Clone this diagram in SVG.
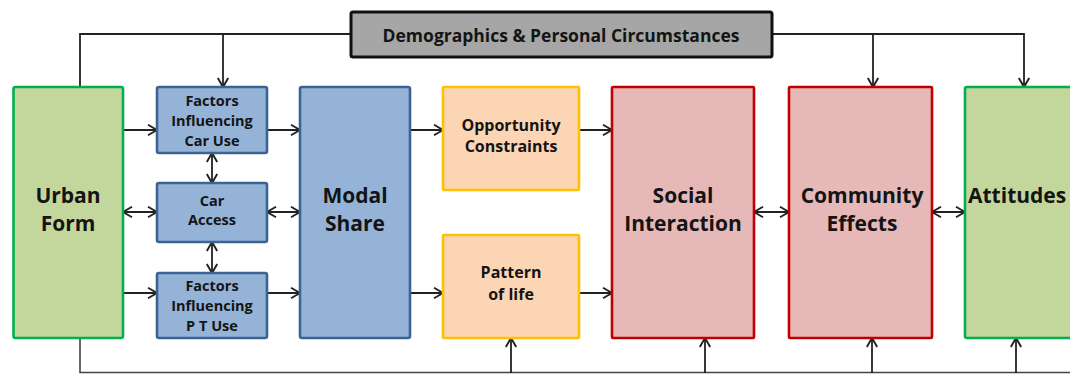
<svg xmlns="http://www.w3.org/2000/svg" width="1070" height="374" viewBox="0 0 1070 374">
<defs>
<marker id="ah" markerUnits="userSpaceOnUse" markerWidth="13" markerHeight="13" refX="10" refY="6" orient="auto-start-reverse" viewBox="0 0 13 12">
<path d="M1,0.8 L10,6 L1,11.2" fill="none" stroke="#222" stroke-width="1.9"/>
</marker>
</defs>
<style>
.green{fill:#c3d69b;stroke:#00b050;stroke-width:2.6}
.blue{fill:#95b3d7;stroke:#3b6394;stroke-width:2.6}
.orange{fill:#fcd5b5;stroke:#ffc000;stroke-width:2.6}
.pink{fill:#e6b9b8;stroke:#c00000;stroke-width:2.6}
.gray{fill:#a6a6a6;stroke:#111;stroke-width:3}
text{font-family:"Open Sans","DejaVu Sans",sans-serif;font-weight:bold;fill:#141414;text-anchor:middle}
.big{font-size:21px}
.mid{font-size:16px}
.sm{font-size:14.5px}
.hdr{font-size:17.5px}
.c{fill:none;stroke:#222;stroke-width:1.8}
.a{marker-end:url(#ah)}
.d{marker-start:url(#ah);marker-end:url(#ah)}
</style>
<g id="connectors">
<path class="c" d="M351,34 H80 V87"/>
<path class="c a" d="M223,34 V87"/>
<path class="c a" d="M772,34 H1024 V87"/>
<path class="c a" d="M873,34 V87"/>
<path class="c a" d="M123,130 H157"/>
<path class="c d" d="M123,212 H157"/>
<path class="c a" d="M123,293 H157"/>
<path class="c a" d="M267,130 H300"/>
<path class="c d" d="M267,212 H300"/>
<path class="c a" d="M267,293 H300"/>
<path class="c d" d="M212,153 V183"/>
<path class="c d" d="M212,242 V273"/>
<path class="c a" d="M410,130 H443"/>
<path class="c a" d="M410,293 H443"/>
<path class="c a" d="M579,130 H612"/>
<path class="c a" d="M579,293 H612"/>
<path class="c d" d="M754,212 H789"/>
<path class="c d" d="M932,212 H965"/>
<path class="c" d="M80,338 V372.5 H1070" style="stroke:#444;stroke-width:1.6"/>
<path class="c a" d="M511,373 V338"/>
<path class="c a" d="M705,373 V338"/>
<path class="c a" d="M872,373 V338"/>
<path class="c a" d="M1016,373 V338"/>
</g>
<g id="demographics">
<rect class="gray" x="351" y="12" width="421" height="45" rx="2"/>
<text class="hdr" x="561" y="42">Demographics &amp; Personal Circumstances</text>
</g>
<g id="urban-form">
<rect class="green" x="13.5" y="87" width="109.5" height="251" rx="2"/>
<text class="big" x="68" y="203">Urban</text>
<text class="big" x="68" y="231">Form</text>
</g>
<g id="factors-car">
<rect class="blue" x="157" y="87" width="110" height="66" rx="2"/>
<text class="sm" x="212" y="106">Factors</text>
<text class="sm" x="212" y="126">Influencing</text>
<text class="sm" x="212" y="146">Car Use</text>
</g>
<g id="car-access">
<rect class="blue" x="157" y="183" width="110" height="59" rx="2"/>
<text class="sm" x="212" y="206">Car</text>
<text class="sm" x="212" y="225">Access</text>
</g>
<g id="factors-pt">
<rect class="blue" x="157" y="273" width="110" height="65" rx="2"/>
<text class="sm" x="212" y="291">Factors</text>
<text class="sm" x="212" y="311">Influencing</text>
<text class="sm" x="212" y="331">P T Use</text>
</g>
<g id="modal-share">
<rect class="blue" x="300" y="87" width="110" height="251" rx="2"/>
<text class="big" x="355" y="203">Modal</text>
<text class="big" x="355" y="231">Share</text>
</g>
<g id="opportunity">
<rect class="orange" x="443" y="87" width="136" height="103" rx="1"/>
<text class="mid" x="511" y="131">Opportunity</text>
<text class="mid" x="511" y="152">Constraints</text>
</g>
<g id="pattern">
<rect class="orange" x="443" y="235" width="136" height="103" rx="1"/>
<text class="mid" x="511" y="278">Pattern</text>
<text class="mid" x="511" y="300">of life</text>
</g>
<g id="social">
<rect class="pink" x="612" y="87" width="142" height="251" rx="1"/>
<text class="big" x="683" y="203">Social</text>
<text class="big" x="683" y="231">Interaction</text>
</g>
<g id="community">
<rect class="pink" x="789" y="87" width="143" height="251" rx="1"/>
<text class="big" x="862" y="203">Community</text>
<text class="big" x="862" y="231">Effects</text>
</g>
<g id="attitudes">
<rect class="green" x="965" y="87" width="120" height="251" rx="2"/>
<text class="big" x="968" y="203" style="text-anchor:start">Attitudes</text>
</g>
</svg>
